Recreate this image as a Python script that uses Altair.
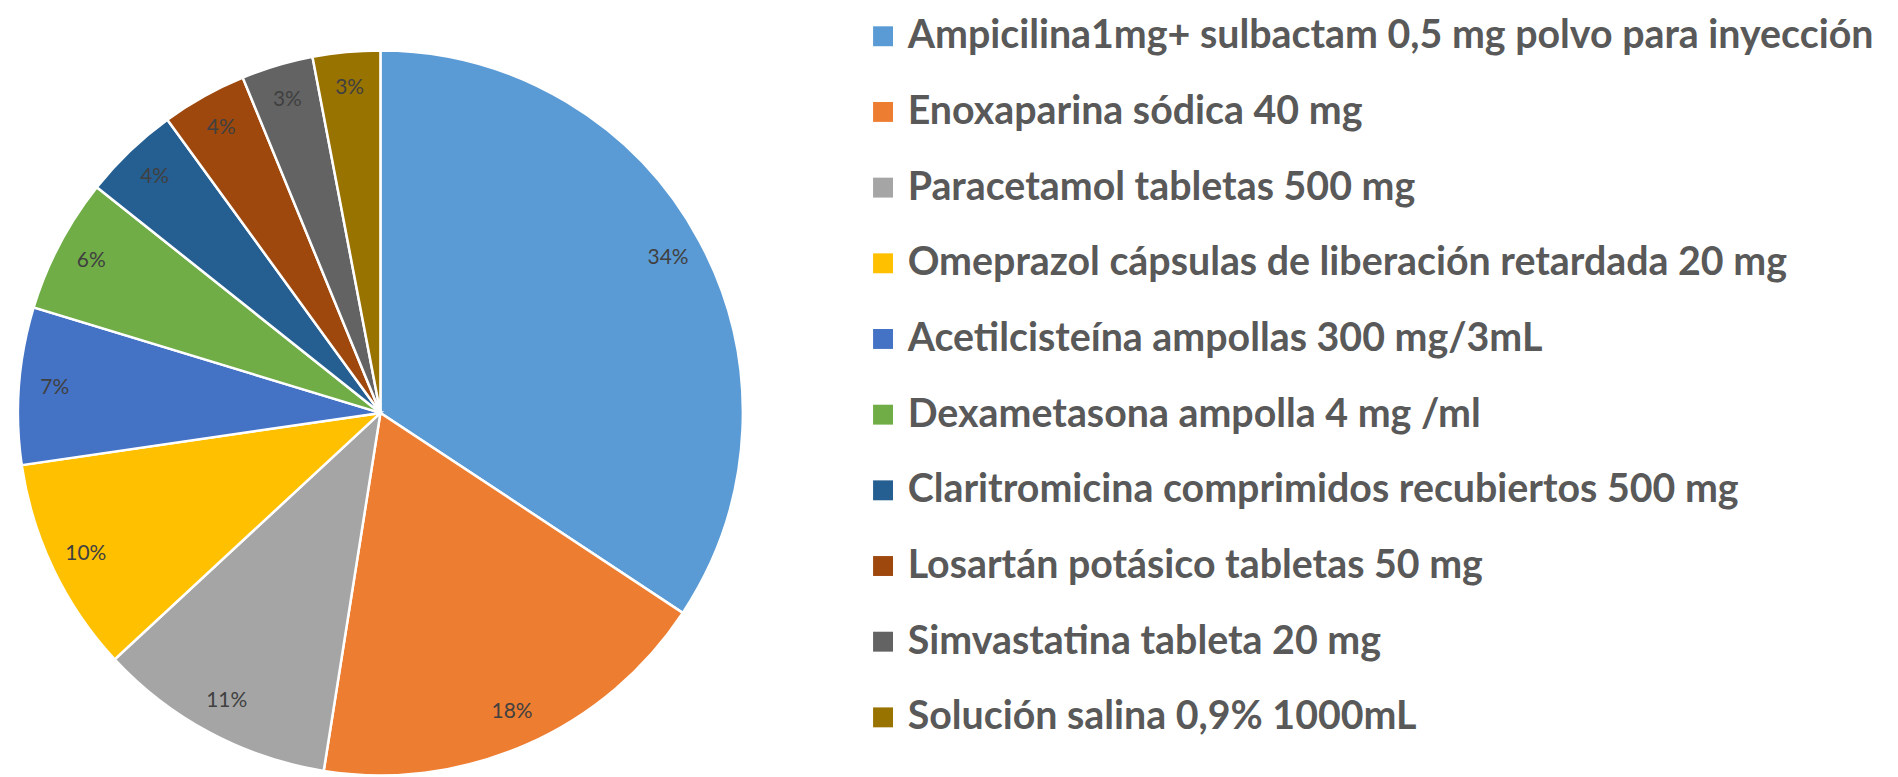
import altair as alt
import pandas as pd

names = [
    "Ampicilina1mg+ sulbactam 0,5 mg polvo para inyección",
    "Enoxaparina sódica 40 mg",
    "Paracetamol tabletas 500 mg",
    "Omeprazol cápsulas de liberación retardada 20 mg",
    "Acetilcisteína ampollas 300 mg/3mL",
    "Dexametasona ampolla 4 mg /ml",
    "Claritromicina comprimidos recubiertos 500 mg",
    "Losartán potásico tabletas 50 mg",
    "Simvastatina tableta 20 mg",
    "Solución salina 0,9% 1000mL",
]
values = [34.3, 18.2, 10.6, 9.6, 7.0, 6.0, 4.3, 3.8, 3.2, 3.0]
pct_labels = ["34%", "18%", "11%", "10%", "7%", "6%", "4%", "4%", "3%", "3%"]
colors = ["#5B9BD5", "#ED7D31", "#A5A5A5", "#FFC000", "#4472C4",
          "#70AD47", "#255E91", "#9E480E", "#636363", "#997300"]

df = pd.DataFrame({"name": names, "value": values, "label": pct_labels,
                   "idx": list(range(len(names)))})

CX, CY, R = 374, 405, 364

base = alt.Chart(df).encode(
    theta=alt.Theta("value:Q", stack=True),
    order=alt.Order("idx:Q"),
)

pie = base.mark_arc(radius=R, stroke="white", strokeWidth=2.5).encode(
    x=alt.value(CX), y=alt.value(CY),
    color=alt.Color("name:N", sort=names,
                    scale=alt.Scale(domain=names, range=colors),
                    legend=alt.Legend(
                        title=None, orient="none", legendX=859, legendY=7,
                        symbolType="square", symbolSize=400, symbolStrokeWidth=0,
                        labelFont="Lato", labelFontWeight="bold", labelFontSize=39.5,
                        labelColor="#595959", labelLimit=1200, labelOffset=5,
                        rowPadding=35, padding=0)),
)

text = base.mark_text(radius=328, font="Lato", fontSize=21, color="#404040").encode(
    x=alt.value(CX), y=alt.value(CY),
    text="label:N",
)

chart = (pie + text).properties(
    width=1890, height=769, padding=0, autosize="none"
).configure_view(stroke=None)

chart.save("out.html", embed_options={"renderer": "svg", "actions": False})
